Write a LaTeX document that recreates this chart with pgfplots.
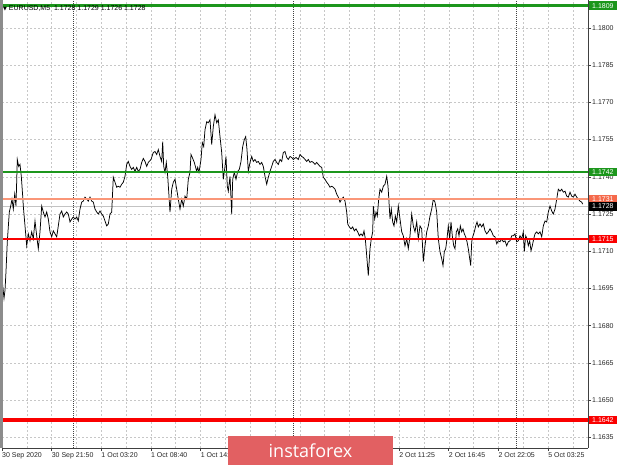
\documentclass[border=0pt]{standalone}
\usepackage{fontspec}
\setmainfont{Liberation Sans}
\newfontfamily\wmfont{Open Sans}
\newfontfamily\symfont{DejaVu Sans}
\usepackage{pgfplots}
\pgfplotsset{compat=1.18}
\usepackage{pgfplotstable}
\definecolor{lvgreen}{RGB}{28,150,28}
\definecolor{lvred}{RGB}{250,0,0}
\definecolor{lvsalmon}{RGB}{250,150,120}
\definecolor{lvsalmonbox}{RGB}{245,105,75}
\definecolor{curgrey}{RGB}{195,195,195}
\definecolor{wmred}{RGB}{226,96,98}
\pgfplotstableread{
x p
1.7 1.17002
2.7 1.16962
4 1.16910
5 1.16942
6 1.17018
7.3 1.17138
9.3 1.17258
10.7 1.17282
12 1.17310
13.3 1.17270
14.7 1.17330
16 1.17282
17.3 1.17470
18.7 1.17442
20 1.17450
21.3 1.17402
22.7 1.17322
23.3 1.17282
25 1.17202
26.7 1.17122
28.3 1.17170
30 1.17142
31.7 1.17178
33.3 1.17150
35 1.17222
36.7 1.17162
38.3 1.17110
40 1.17178
41.7 1.17282
43.3 1.17258
45 1.17238
46.7 1.17258
48.3 1.17230
50 1.17178
51.7 1.17158
53.3 1.17182
55 1.17170
56.7 1.17158
58.3 1.17202
60 1.17250
61.7 1.17262
63.3 1.17238
65 1.17250
66.7 1.17258
68.3 1.17250
70 1.17218
71.7 1.17230
73.3 1.17238
75 1.17230
76.7 1.17238
78.3 1.17222
80 1.17270
81.7 1.17298
83.3 1.17302
85 1.17318
86.7 1.17310
88.3 1.17302
90 1.17318
91.7 1.17302
93.3 1.17298
95 1.17270
96.7 1.17258
98.3 1.17250
100 1.17262
101.7 1.17250
103.3 1.17242
105 1.17222
106.7 1.17202
108.3 1.17210
110 1.17250
111.7 1.17258
113.3 1.17398
115 1.17378
116.7 1.17358
118.3 1.17362
120 1.17358
121.7 1.17370
123.3 1.17378
125 1.17402
126.7 1.17450
128.3 1.17462
130 1.17442
131.7 1.17430
133.3 1.17438
135 1.17422
136.7 1.17438
138.3 1.17422
140 1.17430
141.7 1.17458
143.3 1.17474
145 1.17462
146.7 1.17442
148.3 1.17458
151 1.17470
153.3 1.17498
155 1.17502
156.7 1.17490
158.3 1.17510
160 1.17482
161.7 1.17462
162.7 1.17542
163.7 1.17442
165 1.17418
166.3 1.17458
167.7 1.17402
169 1.17322
170 1.17258
171.7 1.17350
173.3 1.17378
175 1.17390
176.7 1.17350
178.3 1.17310
180 1.17270
181.7 1.17310
183.3 1.17282
185 1.17322
186.7 1.17310
188.3 1.17390
190 1.17418
191 1.17490
192.3 1.17478
194.3 1.17458
196.7 1.17422
197.7 1.17438
199 1.17418
201 1.17470
202.3 1.17538
203.7 1.17522
205 1.17590
206.7 1.17622
208.3 1.17618
210 1.17630
211.7 1.17530
213.3 1.17602
215 1.17650
216.7 1.17618
218.3 1.17630
220 1.17562
221.7 1.17498
223.3 1.17390
225 1.17442
226 1.17482
227.3 1.17362
228.3 1.17342
230 1.17402
231.7 1.17250
232.7 1.17390
234.3 1.17418
236 1.17390
237.7 1.17422
239.3 1.17430
241 1.17462
242.7 1.17522
244.3 1.17550
245.7 1.17562
247 1.17510
248.3 1.17422
250 1.17458
251.7 1.17482
253.3 1.17462
255 1.17470
256.7 1.17458
258.3 1.17462
260 1.17450
261.7 1.17458
263.3 1.17442
265 1.17402
266.7 1.17370
268.3 1.17398
270 1.17422
271.7 1.17442
273.3 1.17462
275 1.17470
276.7 1.17458
278.3 1.17450
280 1.17470
281.7 1.17462
283.3 1.17498
285 1.17502
286.7 1.17478
288.3 1.17470
290 1.17482
291.7 1.17478
293.3 1.17470
296 1.17478
298.3 1.17470
300 1.17490
301.7 1.17482
303.3 1.17478
305 1.17470
306.7 1.17462
308.3 1.17470
310 1.17458
311.7 1.17462
313.3 1.17458
315 1.17450
316.7 1.17458
318.3 1.17450
320 1.17442
321.7 1.17438
323.3 1.17398
325 1.17390
326.7 1.17378
328.3 1.17370
330 1.17358
331.7 1.17362
333.3 1.17358
335 1.17350
336.7 1.17330
338.3 1.17318
340 1.17298
341.7 1.17310
343.3 1.17318
345 1.17302
346.7 1.17258
347.7 1.17210
349.3 1.17198
351 1.17190
352.7 1.17198
354.3 1.17182
356 1.17190
357.7 1.17178
359.3 1.17162
361 1.17170
362.7 1.17162
364 1.17182
365.3 1.17150
366.7 1.17082
368.3 1.17002
370 1.17110
371.3 1.17150
372.7 1.17178
373.3 1.17282
374.7 1.17230
376 1.17258
377.3 1.17242
378.7 1.17310
380 1.17350
381.7 1.17338
383.3 1.17362
385 1.17370
386.7 1.17402
388 1.17362
389 1.17298
390 1.17230
391.3 1.17270
392.7 1.17218
394 1.17202
395.3 1.17242
396.7 1.17218
398.3 1.17282
400 1.17230
401.7 1.17178
403.3 1.17162
405 1.17122
406.7 1.17150
408.3 1.17110
410 1.17162
411.7 1.17250
413.3 1.17202
415 1.17178
416.7 1.17218
418.3 1.17150
420 1.17202
421.7 1.17190
423.3 1.17058
425 1.17122
426.7 1.17178
428.3 1.17202
430 1.17242
431.7 1.17270
433.3 1.17310
435 1.17298
436.7 1.17258
438.3 1.17150
440 1.17098
441.7 1.17070
443 1.17042
444.3 1.17098
445.7 1.17110
447 1.17150
448.3 1.17202
449.7 1.17150
451 1.17218
452.3 1.17162
453.7 1.17122
455 1.17110
456.3 1.17178
457.7 1.17190
459 1.17162
460.3 1.17202
461.7 1.17178
463 1.17190
464.3 1.17170
465.7 1.17158
467 1.17138
468.3 1.17110
469.7 1.17070
470.7 1.17042
471.7 1.17138
473 1.17162
474.3 1.17178
475.7 1.17202
477 1.17218
478.3 1.17198
480 1.17210
481.7 1.17198
483.3 1.17210
485 1.17182
486.7 1.17170
488.3 1.17178
490 1.17190
491.7 1.17178
493.3 1.17162
495 1.17158
496.7 1.17130
498.3 1.17142
500 1.17138
501.7 1.17150
503.3 1.17138
505 1.17142
506.7 1.17122
508.3 1.17138
510 1.17142
511.7 1.17162
513.3 1.17162
515 1.17170
516.7 1.17138
518.3 1.17142
520 1.17162
521.7 1.17150
523.3 1.17178
524.3 1.17098
525.7 1.17162
527 1.17150
528.3 1.17122
529.7 1.17142
531 1.17102
532.3 1.17122
533.7 1.17150
535 1.17170
536.7 1.17178
538.3 1.17170
540 1.17178
541.7 1.17158
543.3 1.17202
545 1.17222
546.7 1.17218
548.3 1.17258
550 1.17282
551.7 1.17262
553.3 1.17250
555 1.17270
556.7 1.17310
558.3 1.17350
560 1.17342
561.7 1.17350
563.3 1.17338
565 1.17342
566.7 1.17322
568.3 1.17318
570 1.17338
571.7 1.17322
573.3 1.17318
575 1.17330
576.7 1.17318
578.3 1.17310
580 1.17302
581.7 1.17298
582.7 1.17290
}\pricedata

\begin{document}
\begin{tikzpicture}[x=1pt,y=1pt]
\useasboundingbox (0,0) rectangle (620,465);
\begin{axis}[
  at={(2pt,17pt)}, anchor=south west,
  scale only axis, width=586pt, height=448pt,
  xmin=2, xmax=588, ymin=1.163065, ymax=1.18113,
  axis x line*=bottom, axis y line*=right,
  axis line style={color=black!75, line width=0.8pt},
  xtick={2,51.64,101.28,150.92,200.56,250.20,299.84,349.48,399.12,448.76,498.40,548.04},
  xticklabels={30 Sep 2020,30 Sep 21:50,1 Oct 03:20,1 Oct 08:40,1 Oct 14:00,,,,2 Oct 11:25,2 Oct 16:45,2 Oct 22:05,5 Oct 03:25},
  minor xtick={26.82,76.46,126.10,175.74,225.38,275.02,324.66,374.30,423.94,473.58,523.22,572.86},
  ytick={1.1635,1.1650,1.1665,1.1680,1.1695,1.1710,1.1725,1.1740,1.1755,1.1770,1.1785,1.1800},
  yticklabels={1.1635,1.1650,1.1665,1.1680,1.1695,1.1710,1.1725,1.1740,1.1755,1.1770,1.1785,1.1800},
  grid=both,
  major grid style={dash pattern=on 2pt off 2pt, color=black!22, line width=0.5pt},
  minor grid style={dash pattern=on 2pt off 2pt, color=black!22, line width=0.5pt},
  tick style={color=black!75, line width=0.6pt},
  major tick length=3pt, minor tick length=0pt,
  tick align=outside,
  ticklabel style={font=\fontsize{7}{8}\selectfont, text=black!85},
  xticklabel style={anchor=north west, inner sep=0pt, yshift=-1.5pt},
  yticklabel style={anchor=west, inner sep=0pt, xshift=1pt},
  extra x ticks={73,293.3,516.5},
  extra x tick labels={},
  extra x tick style={major tick length=0pt, grid=major, major grid style={dash pattern=on 1pt off 1pt, color=black!75, line width=0.8pt}},
  clip mode=individual,
]
\addplot[curgrey, line width=0.7pt] coordinates {(2,1.1728) (588,1.1728)};
\addplot[black, line width=0.75pt] table[x=x,y=p]{\pricedata};
\addplot[lvgreen, line width=3pt] coordinates {(2,1.1809) (588,1.1809)};
\addplot[lvgreen, line width=2.5pt] coordinates {(2,1.1742) (588,1.1742)};
\addplot[lvsalmon, line width=1.5pt] coordinates {(2,1.1731) (588,1.1731)};
\addplot[lvred, line width=2pt] coordinates {(2,1.1715) (588,1.1715)};
\addplot[lvred, line width=3.3pt] coordinates {(2,1.1642) (588,1.1642)};
\coordinate (c1809) at (axis cs:588,1.1809);
\coordinate (c1742) at (axis cs:588,1.1742);
\coordinate (c1731) at (axis cs:588,1.1731);
\coordinate (c1728) at (axis cs:588,1.1728);
\coordinate (c1715) at (axis cs:588,1.1715);
\coordinate (c1642) at (axis cs:588,1.1642);
\end{axis}
\tikzset{lvl/.style={anchor=west, inner xsep=3pt, inner ysep=0pt, minimum height=8.5pt, text=white, font=\fontsize{7}{8}\selectfont, xshift=1pt}}
\node[lvl, fill=lvgreen] at (c1809) {1.1809};
\node[lvl, fill=lvgreen] at (c1742) {1.1742};
\node[lvl, fill=lvsalmonbox] at (c1731) {1.1731};
\node[lvl, fill=black] at (c1728) {1.1728};
\node[lvl, fill=lvred] at (c1715) {1.1715};
\node[lvl, fill=lvred] at (c1642) {1.1642};
\draw[black!45, line width=2.5pt] (1.25,17) -- (1.25,465);
\fill[wmred] (228,0) rectangle (393,29);
\node[text=white, font=\wmfont\fontsize{18}{18}\selectfont, inner sep=0pt] at (310.5,14) {instaforex};
\node[anchor=west, font=\fontsize{7}{8}\selectfont, inner sep=0pt] at (3,456.5) {{\symfont\fontsize{5}{6}\selectfont ▼}\ EURUSD,M5\ \ 1.1728 1.1729 1.1726 1.1728};
\end{tikzpicture}
\end{document}
